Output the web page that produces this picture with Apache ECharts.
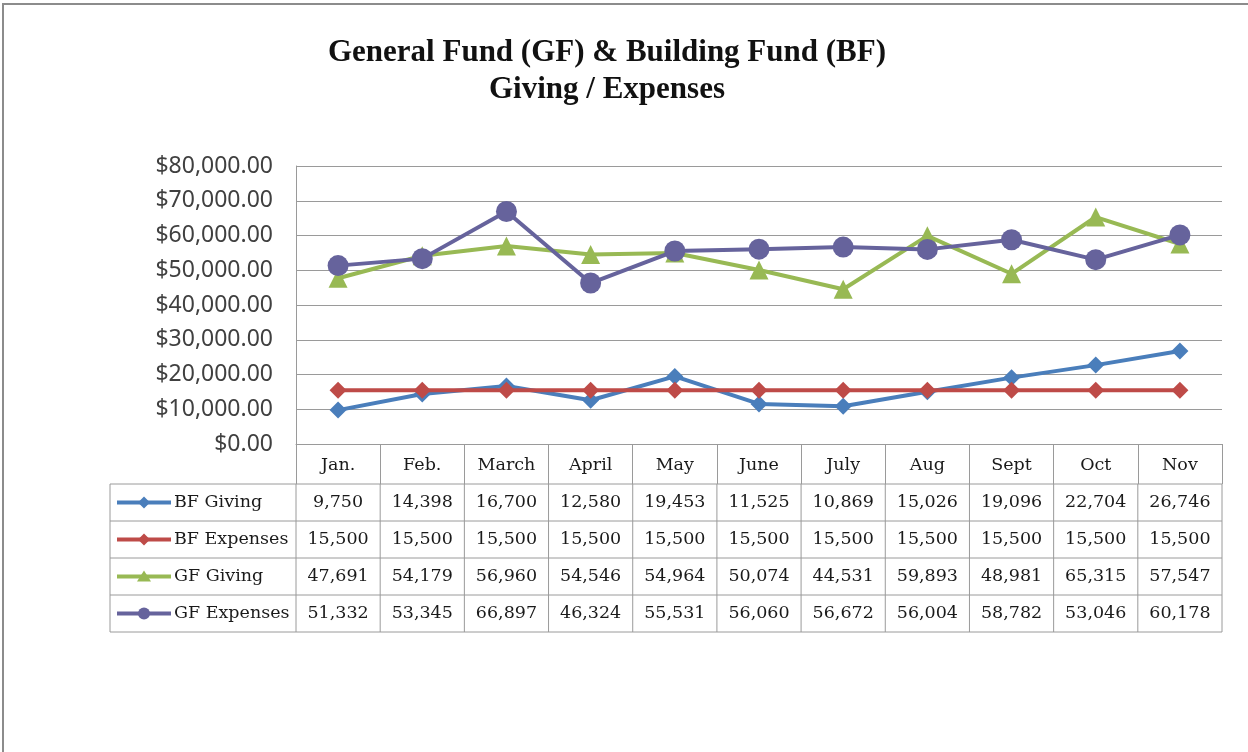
<!DOCTYPE html>
<html>
<head>
<meta charset="utf-8">
<script src="https://cdn.jsdelivr.net/npm/echarts@6/dist/echarts.min.js"></script>
<style>
  html, body { margin: 0; padding: 0; background: #fff; }
  #chart { width: 1248px; height: 752px; }
</style>
</head>
<body>
<div id="chart"></div>
<script>
// data
const categories = ["Jan.", "Feb.", "March", "April", "May", "June", "July", "Aug", "Sept", "Oct", "Nov"];
const bfGiving = [9750, 14398, 16700, 12580, 19453, 11525, 10869, 15026, 19096, 22704, 26746];
const bfExpenses = [15500, 15500, 15500, 15500, 15500, 15500, 15500, 15500, 15500, 15500, 15500];
const gfGiving = [47691, 54179, 56960, 54546, 54964, 50074, 44531, 59893, 48981, 65315, 57547];
const gfExpenses = [51332, 53345, 66897, 46324, 55531, 56060, 56672, 56004, 58782, 53046, 60178];
const seriesNames = ["BF Giving", "BF Expenses", "GF Giving", "GF Expenses"];

const colors = ["#4a7ebb", "#be4b48", "#98b954", "#66639c"];
const symbols = ["diamond", "diamond", "triangle", "circle"];
const symbolSizes = [17, 17, 19, 21];

// layout
const gridLeft = 296;
const gridRight = 1222;
const gridTop = 166;
const gridBottom = 444;
const headerH = 40;
const rowH = 37;
const tableLeft = 110;
const tableFont = '"DejaVu Serif", serif';
const tableSize = 17.5;
const lineColor = "#9a9a9a";

const chart = echarts.init(document.getElementById("chart"));
const allData = [bfGiving, bfExpenses, gfGiving, gfExpenses];
const fmt = (v) => v.toLocaleString("en-US");

function buildTable() {
  const els = [];
  const colW = (gridRight - gridLeft) / categories.length;
  const top = gridBottom + headerH;
  const bottom = top + rowH * allData.length;

  // horizontal lines
  for (let r = 0; r <= allData.length; r++) {
    const y = top + r * rowH;
    els.push({ type: "line", shape: { x1: tableLeft, y1: y, x2: gridRight, y2: y },
      style: { stroke: lineColor, lineWidth: 1 } });
  }
  // vertical lines
  els.push({ type: "line", shape: { x1: tableLeft, y1: top, x2: tableLeft, y2: bottom },
    style: { stroke: lineColor, lineWidth: 1 } });
  for (let c = 0; c <= categories.length; c++) {
    const x = gridLeft + c * colW;
    els.push({ type: "line", shape: { x1: x, y1: top, x2: x, y2: bottom },
      style: { stroke: lineColor, lineWidth: 1 } });
  }

  allData.forEach((row, r) => {
    const cy = top + r * rowH + rowH / 2;
    // legend key
    els.push({ type: "line", shape: { x1: 117, y1: cy, x2: 171, y2: cy },
      style: { stroke: colors[r], lineWidth: 4 } });
    if (symbols[r] === "circle") {
      els.push({ type: "circle", shape: { cx: 144, cy: cy, r: 6 }, style: { fill: colors[r] } });
    } else if (symbols[r] === "triangle") {
      els.push({ type: "polygon", shape: { points: [[144, cy - 6], [151, cy + 5], [137, cy + 5]] },
        style: { fill: colors[r] } });
    } else {
      els.push({ type: "polygon", shape: { points: [[144, cy - 6], [150, cy], [144, cy + 6], [138, cy]] },
        style: { fill: colors[r] } });
    }
    els.push({ type: "text", x: 174, y: cy,
      style: { text: seriesNames[r], font: tableSize + "px " + tableFont, fill: "#1a1a1a",
        textAlign: "left", textVerticalAlign: "middle" } });
    row.forEach((v, c) => {
      els.push({ type: "text", x: gridLeft + (c + 0.5) * colW, y: cy,
        style: { text: fmt(v), font: tableSize + "px " + tableFont, fill: "#1a1a1a",
          textAlign: "center", textVerticalAlign: "middle" } });
    });
  });

  // outer frame of the chart object
  els.push({ type: "rect", shape: { x: 3, y: 4, width: 1300, height: 800 },
    style: { fill: "none", stroke: "#8c8c8c", lineWidth: 2 }, silent: true });
  return els;
}

chart.setOption({
  animation: false,
  backgroundColor: "#fff",
  title: {
    text: "General Fund (GF) & Building Fund (BF)\nGiving / Expenses",
    left: 602,
    textAlign: "center",
    top: 29,
    textStyle: {
      fontFamily: '"Liberation Serif", serif',
      fontWeight: "bold",
      fontSize: 31,
      lineHeight: 37,
      color: "#111",
    },
  },
  grid: {
    left: gridLeft,
    right: 1248 - gridRight,
    top: gridTop,
    bottom: 752 - gridBottom,
  },
  xAxis: {
    type: "category",
    data: categories,
    boundaryGap: true,
    axisLine: { lineStyle: { color: lineColor } },
    axisTick: { show: true, interval: 0, length: headerH, lineStyle: { color: lineColor } },
    axisLabel: {
      interval: 0,
      margin: 12,
      fontFamily: tableFont,
      fontSize: tableSize,
      color: "#1a1a1a",
    },
  },
  yAxis: {
    type: "value",
    min: 0,
    max: 80000,
    interval: 10000,
    axisLine: { show: true, lineStyle: { color: lineColor } },
    axisTick: { show: false },
    splitLine: { lineStyle: { color: lineColor } },
    axisLabel: {
      margin: 23,
      fontFamily: '"Noto Sans", sans-serif',
      fontSize: 23,
      color: "#404040",
      formatter: (v) => "$" + v.toLocaleString("en-US", { minimumFractionDigits: 2, maximumFractionDigits: 2 }),
    },
  },
  series: allData.map((d, i) => ({
    name: seriesNames[i],
    type: "line",
    data: d,
    symbol: symbols[i],
    symbolSize: symbolSizes[i],
    itemStyle: { color: colors[i] },
    lineStyle: { color: colors[i], width: 4 },
    z: 2 + i,
  })),
  graphic: buildTable(),
});
</script>
</body>
</html>
